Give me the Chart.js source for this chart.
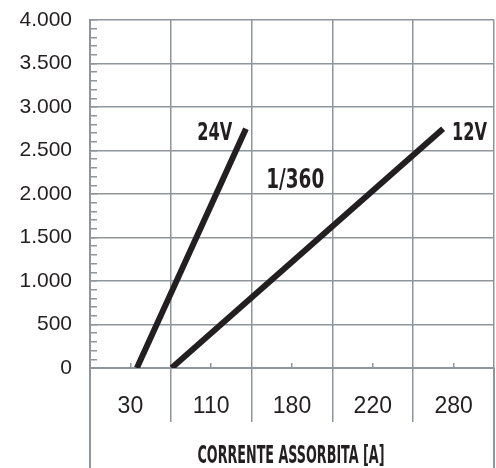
<!DOCTYPE html>
<html>
<head>
<meta charset="utf-8">
<script src="https://cdn.jsdelivr.net/npm/chart.js@4.4.1/dist/chart.umd.min.js"></script>
<style>
  html, body { margin: 0; padding: 0; background: #fff; }
  canvas { display: block; }
</style>
</head>
<body>
<canvas id="chart" width="496" height="468"></canvas>
<script>
// x runs over the table columns: one unit per column, 0 = left edge
const categories = ['30', '110', '180', '220', '280'];
const yMax = 4000;
const yMinorStep = 100;
const yLabelStep = 500;
const xTitle = 'CORRENTE ASSORBITA [A]';

const line24V = [{ x: 0.58, y: 0 }, { x: 1.93, y: 2750 }];
const line12V = [{ x: 1.01, y: 0 }, { x: 4.37, y: 2750 }];

// annotation anchors (x in columns, y on the value axis, baseline of the text)
const notes = [
  { text: '24V', x: 1.76, y: 2620, align: 'right' },
  { text: '12V', x: 4.48, y: 2620, align: 'left' },
  { text: '1/360', x: 2.54, y: 2070, align: 'center' }
];

const grey = '#8e959b';
const ink = '#231f20';
const condensed = "'DejaVu Sans Condensed', 'DejaVu Sans', sans-serif";
// font size and drawn width for the condensed texts
const squeeze = {
  '24V': { size: 24, width: 35 },
  '12V': { size: 24, width: 35 },
  '1/360': { size: 26, width: 58 },
  title: { size: 25, width: 187 }
};

const yTickValues = [];
for (let v = 0; v <= yMax; v += yMinorStep) yTickValues.push(v);
const columnEdges = categories.map((c, i) => i).concat(categories.length);

const fmt = v => String(v).replace(/\B(?=(\d{3})+(?!\d))/g, '.');

function drawSqueezed(ctx, text, px, py, align, st) {
  ctx.font = 'bold ' + st.size + 'px ' + condensed;
  const sx = st.width / ctx.measureText(text).width;
  ctx.save();
  ctx.translate(px, py);
  ctx.scale(sx, 1);
  ctx.textAlign = align;
  ctx.textBaseline = 'alphabetic';
  ctx.fillStyle = ink;
  ctx.fillText(text, 0, 0);
  ctx.restore();
}

const notesPlugin = {
  id: 'notes',
  afterDraw(chart) {
    const { ctx, chartArea, scales: { x, y } } = chart;
    notes.forEach(n => {
      drawSqueezed(ctx, n.text, x.getPixelForValue(n.x), y.getPixelForValue(n.y), n.align, squeeze[n.text]);
    });
    drawSqueezed(ctx, xTitle, (chartArea.left + chartArea.right) / 2 - 1, x.bottom - 5, 'center', squeeze.title);
  }
};

new Chart(document.getElementById('chart'), {
  type: 'line',
  data: {
    datasets: [
      { label: '24V', data: line24V },
      { label: '12V', data: line12V }
    ]
  },
  options: {
    responsive: false,
    animation: false,
    devicePixelRatio: 1,
    layout: { padding: { top: 20, right: 2, bottom: 0, left: 0 } },
    elements: {
      line: { borderColor: ink, borderWidth: 6, borderCapStyle: 'butt', tension: 0 },
      point: { radius: 0, hoverRadius: 0 }
    },
    plugins: { legend: { display: false }, tooltip: { enabled: false } },
    scales: {
      x: {
        type: 'linear', position: 'bottom', min: 0, max: categories.length, weight: 2,
        afterBuildTicks: s => { s.ticks = categories.map((c, i) => ({ value: i + 0.5 })); },
        afterFit: s => { s.height = 100; s.paddingLeft = 0; s.paddingRight = 0; },
        grid: { drawOnChartArea: false, drawTicks: true, tickLength: -5, tickColor: grey, lineWidth: 1.5 },
        border: { display: true, color: grey, width: 2 },
        ticks: {
          autoSkip: false, maxRotation: 0, padding: 30, color: ink,
          font: { family: "'Liberation Sans', Arial, sans-serif", size: 23 },
          callback: (v, i) => categories[i]
        }
      },
      xGrid: {
        type: 'linear', position: 'bottom', min: 0, max: categories.length, weight: 0,
        afterBuildTicks: s => { s.ticks = columnEdges.map(v => ({ value: v })); },
        afterFit: s => { s.height = 0; s.paddingLeft = 0; s.paddingRight = 0; },
        grid: { color: grey, lineWidth: 1.5, drawTicks: true, tickLength: 54, tickColor: grey },
        border: { display: false },
        ticks: { display: false }
      },
      xEdge: {
        type: 'linear', position: 'bottom', min: 0, max: categories.length, weight: 1,
        afterBuildTicks: s => { s.ticks = [0, categories.length].map(v => ({ value: v })); },
        afterFit: s => { s.height = 0; s.paddingLeft = 0; s.paddingRight = 0; },
        grid: { drawOnChartArea: false, drawTicks: true, tickLength: 100, tickColor: grey, lineWidth: 2 },
        border: { display: false },
        ticks: { display: false }
      },
      y: {
        min: 0, max: yMax,
        afterBuildTicks: s => { s.ticks = yTickValues.map(v => ({ value: v })); },
        afterFit: s => { s.width = 90; s.paddingTop = 0; s.paddingBottom = 0; },
        grid: {
          color: c => (c.tick && c.tick.value % yLabelStep === 0 ? grey : 'rgba(0,0,0,0)'),
          lineWidth: 1.5, drawTicks: true, tickLength: -7, tickColor: grey
        },
        border: { display: true, color: grey, width: 2 },
        ticks: {
          autoSkip: false, padding: 25, color: ink,
          font: { family: "'Liberation Sans', Arial, sans-serif", size: 21 },
          callback: v => (v % yLabelStep === 0 ? fmt(v) : '')
        }
      }
    }
  },
  plugins: [notesPlugin]
});
</script>
</body>
</html>
